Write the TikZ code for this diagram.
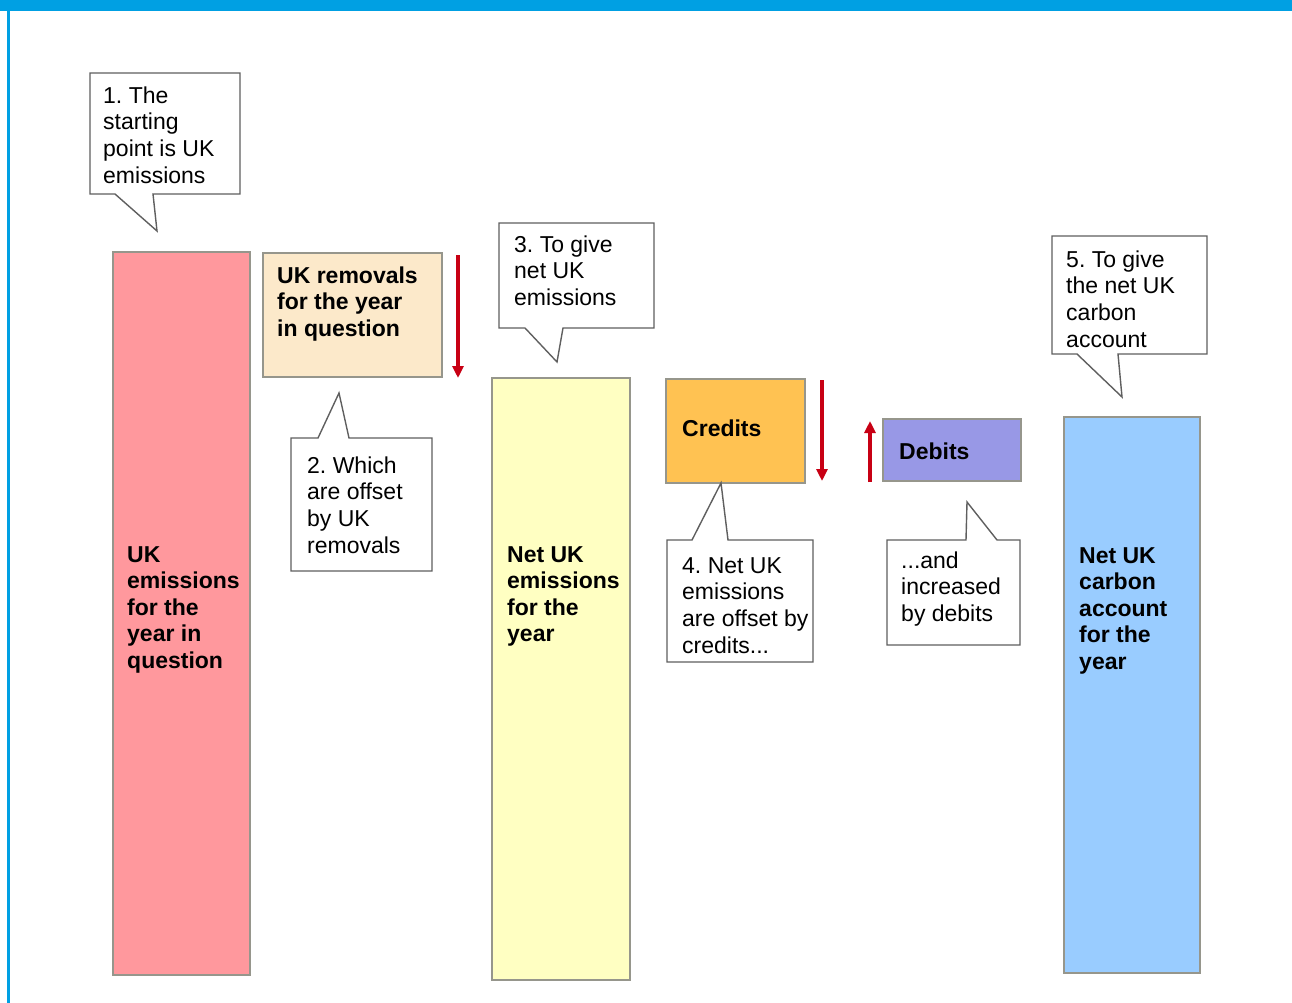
\documentclass[tikz,border=0pt]{standalone}
\usepackage{fontspec}
\setmainfont{Liberation Sans}
\usetikzlibrary{arrows.meta}
\frenchspacing
\definecolor{topblue}{RGB}{0,160,227}
\definecolor{barred}{RGB}{255,152,157}
\definecolor{barbeige}{RGB}{252,233,202}
\definecolor{baryellow}{RGB}{255,255,194}
\definecolor{barorange}{RGB}{255,194,82}
\definecolor{barlav}{RGB}{152,152,230}
\definecolor{barblue}{RGB}{153,204,255}
\definecolor{arrred}{RGB}{200,0,20}
\definecolor{edgegray}{RGB}{150,150,140}
\definecolor{callgray}{RGB}{95,95,95}
\newcommand{\strt}{\rule{0pt}{17pt}}
\tikzset{
  x=1pt, y=-1pt,
  barbox/.style={draw=edgegray, line width=1.2pt},
  callout/.style={draw=callgray, fill=white, line width=1.4pt, line join=miter},
  txt/.style={anchor=north west, inner sep=0pt, align=left, font=\fontsize{23}{26.7}\selectfont},
  btxt/.style={anchor=north west, inner sep=0pt, align=left, font=\fontsize{23}{26.5}\selectfont\bfseries},
  redarrow/.style={draw=arrred, line width=3.5pt, -{Triangle[length=12pt,width=11pt]}}
}
\begin{document}
\begin{tikzpicture}
\useasboundingbox (0,0) rectangle (1292,1003);
\fill[white] (0,0) rectangle (1292,1003);
% frame
\fill[topblue] (0,0) rectangle (1292,11);
\fill[topblue] (7,11) rectangle (9.5,1003);

% bars
\draw[barbox, fill=barred] (113,252) rectangle (250,975);
\draw[barbox, fill=barbeige] (263,253) rectangle (442,377);
\draw[barbox, fill=baryellow] (492,378) rectangle (630,980);
\draw[barbox, fill=barorange] (666,379) rectangle (805,483);
\draw[barbox, fill=barlav] (883,419) rectangle (1021,481);
\draw[barbox, fill=barblue] (1064,417) rectangle (1200,973);

% bar labels
\node[btxt] (lred) at (127,562-17) {\strt UK\\emissions\\for the\\year in\\question};
\node[btxt] (lrem) at (277,283-17) {\strt UK removals\\for the year\\in question};
\node[btxt] (lyel) at (507,562-17) {\strt Net UK\\emissions\\for the\\year};
\node[btxt] (lcred) at (682,436-17) {\strt Credits};
\node[btxt] (ldeb) at (899,459-17) {\strt Debits};
\node[btxt] (lblue) at (1079,563-17) {\strt Net UK\\carbon\\account\\for the\\year};

% arrows
\coordinate (a1s) at (458,255); \coordinate (a1e) at (458,378);
\coordinate (a2s) at (822,380); \coordinate (a2e) at (822,481);
\coordinate (a3s) at (870,482); \coordinate (a3e) at (870,421);
\draw[redarrow] (a1s) -- (a1e);
\draw[redarrow] (a2s) -- (a2e);
\draw[redarrow] (a3s) -- (a3e);

% callouts
\draw[callout] (90,73) -- (240,73) -- (240,194) -- (153,194) -- (157,231) -- (115,194) -- (90,194) -- cycle;
\node[txt] (c1) at (103,103-17) {\strt 1. The\\starting\\point is UK\\emissions};

\draw[callout] (291,438) -- (318,438) -- (339,393) -- (349,438) -- (432,438) -- (432,571) -- (291,571) -- cycle;
\node[txt] (c2) at (307,473-17) {\strt 2. Which\\are offset\\by UK\\removals};

\draw[callout] (499,223) -- (654,223) -- (654,328) -- (563,328) -- (557,362) -- (525,328) -- (499,328) -- cycle;
\node[txt] (c3) at (514,252-17) {\strt 3. To give\\net UK\\emissions};

\draw[callout] (667,540) -- (692,540) -- (721,483) -- (728,540) -- (813,540) -- (813,662) -- (667,662) -- cycle;
\node[txt] (c4) at (682,573-17) {\strt 4. Net UK\\emissions\\are offset by\\credits...};

\draw[callout] (887,540) -- (966,540) -- (967,502) -- (997,540) -- (1020,540) -- (1020,645) -- (887,645) -- cycle;
\node[txt] (c5) at (901,568-17) {\strt ...and\\increased\\by debits};

\draw[callout] (1052,236) -- (1207,236) -- (1207,354) -- (1118,354) -- (1122,397) -- (1077,354) -- (1052,354) -- cycle;
\node[txt] (c6) at (1066,267-17) {\strt 5. To give\\the net UK\\carbon\\account};
\end{tikzpicture}
\end{document}
